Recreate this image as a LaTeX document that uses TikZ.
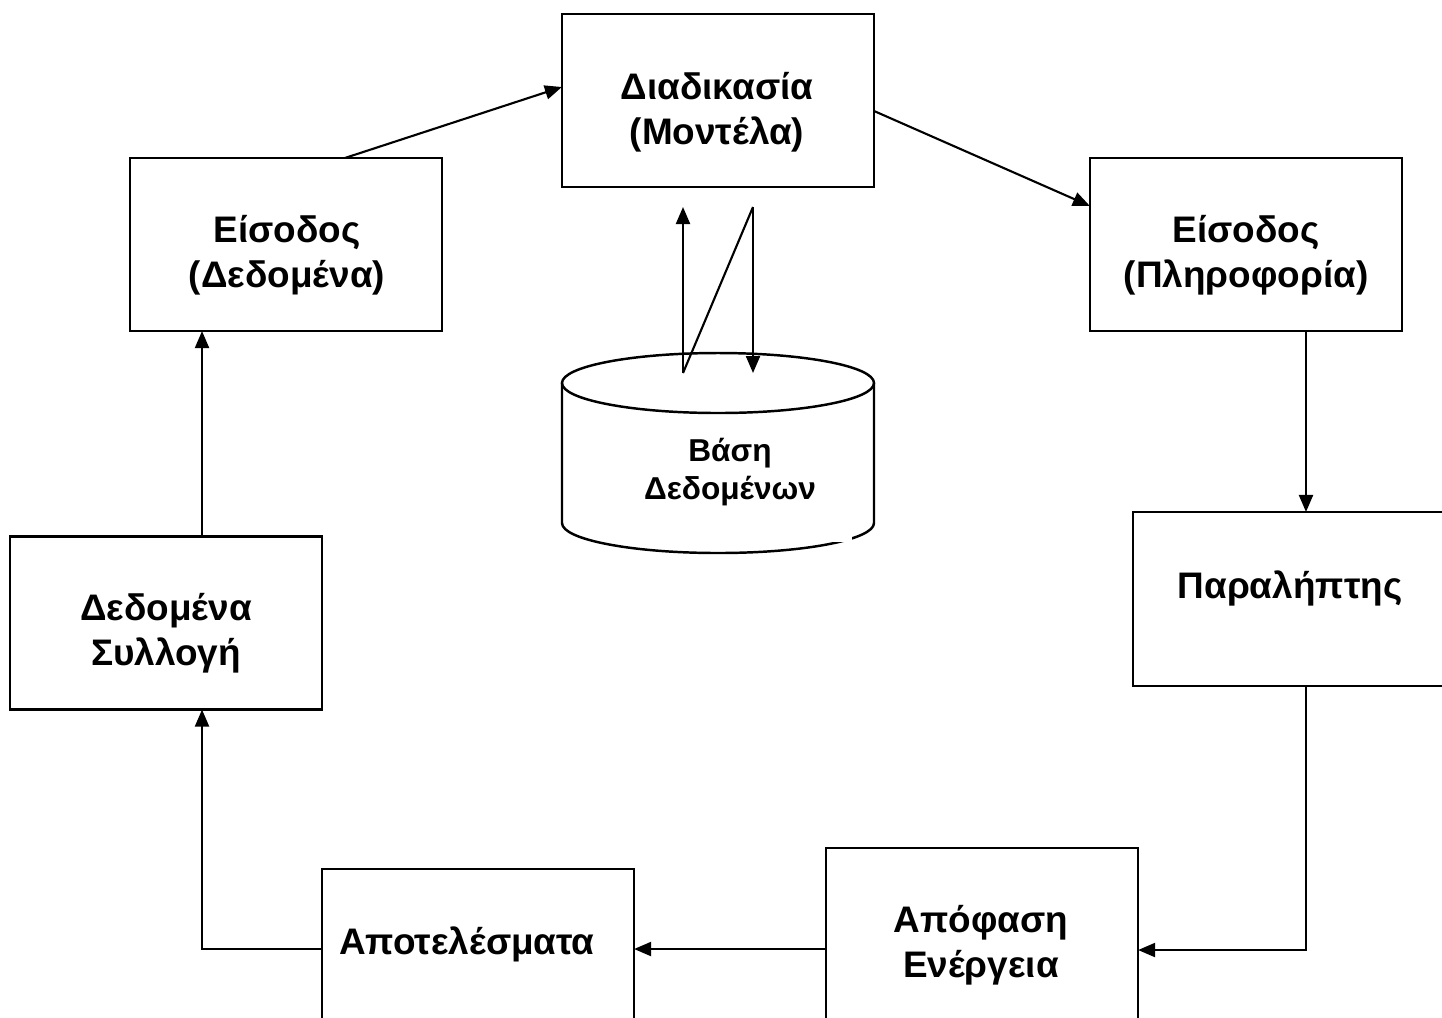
\documentclass[tikz,border=0pt]{standalone}
\usepackage{fontspec}
\setmainfont{Liberation Sans}
\usetikzlibrary{arrows.meta}
\begin{document}
\begin{tikzpicture}[x=0.01cm,y=-0.01cm,
  line width=0.6pt,
  box/.style={draw=black,line width=0.7pt,inner sep=0pt,outer sep=0pt,
              minimum width=3.12cm,minimum height=1.73cm},
  lbl/.style={align=center,inner sep=0pt,font=\fontsize{10.5}{12.8}\selectfont\bfseries},
  dblbl/.style={align=center,inner sep=0pt,font=\fontsize{9}{10.8}\selectfont\bfseries},
  arr/.style={-{Triangle[length=1.7mm,width=1.4mm]}}]
\useasboundingbox (0,0) rectangle (1442,1017);
\clip (0,0) rectangle (1442,1017);
\fill[white] (0,0) rectangle (1442,1017);

% boxes
\node[box] (proc)    at (718,100.5) {};
\node[box] (indata)  at (286,244.5) {};
\node[box] (ininfo)  at (1246,244.5) {};
\node[box,minimum width=3.46cm,minimum height=1.74cm] (recv) at (1306,599) {};
\node[box] (collect) at (166,623) {};
\node[box] (results) at (478,955.5) {};
\node[box] (decide)  at (982,934.5) {};

% labels
\node[lbl] (tproc)    at (717,112) {Διαδικασία\\(Μοντέλα)};
\node[lbl] (tindata)  at (287,255) {Είσοδος\\(Δεδομένα)};
\node[lbl] (tininfo)  at (1246,255) {Είσοδος\\(Πληροφορία)};
\node[lbl] (trecv)    at (1290,588) {Παραλήπτης};
\node[lbl] (tcollect) at (166,633) {Δεδομένα\\Συλλογή};
\node[lbl] (tresults) at (467,944) {Αποτελέσματα};
\node[lbl] (tdecide)  at (981,945) {Απόφαση\\Ενέργεια};

% database cylinder
\coordinate (db) at (718,383);
\draw[line width=0.7pt] (562,383) -- (562,523) arc[start angle=180,end angle=0,x radius=156,y radius=30] -- (874,383);
\draw[line width=0.7pt] (db) ellipse[x radius=156,y radius=30];
\fill[white] (608,420) rectangle (852,542);
\node[dblbl] (tdb) at (730,472) {Βάση\\Δεδομένων};

% arrows at database
\coordinate (dbA) at (683,373);
\coordinate (dbB) at (683,207);
\coordinate (dbC) at (753,207);
\coordinate (dbD) at (753,373);
\draw[arr] (dbA) -- (dbB);
\draw (dbA) -- (dbC);
\draw[arr] (dbC) -- (dbD);

% connectors
\draw[arr] ([xshift=0.59cm]indata.north) -- ([yshift=0.135cm]proc.west);
\draw[arr] ([yshift=-0.105cm]proc.east) -- ([yshift=0.385cm]ininfo.west);
\draw[arr] (recv.north |- ininfo.south) -- (recv.north);
\coordinate (g1) at ([yshift=-0.155cm]decide.east);
\draw[arr] (recv.south) |- (g1);
\coordinate (g2) at ([yshift=-0.145cm]decide.west);
\draw[arr] (g2) -- (g2 -| results.east);
\draw[arr] (g2 -| results.west) -| ([xshift=0.36cm]collect.south);
\draw[arr] ([xshift=0.36cm]collect.north) -- ([xshift=0.36cm]collect.north |- indata.south);
\end{tikzpicture}
\end{document}
